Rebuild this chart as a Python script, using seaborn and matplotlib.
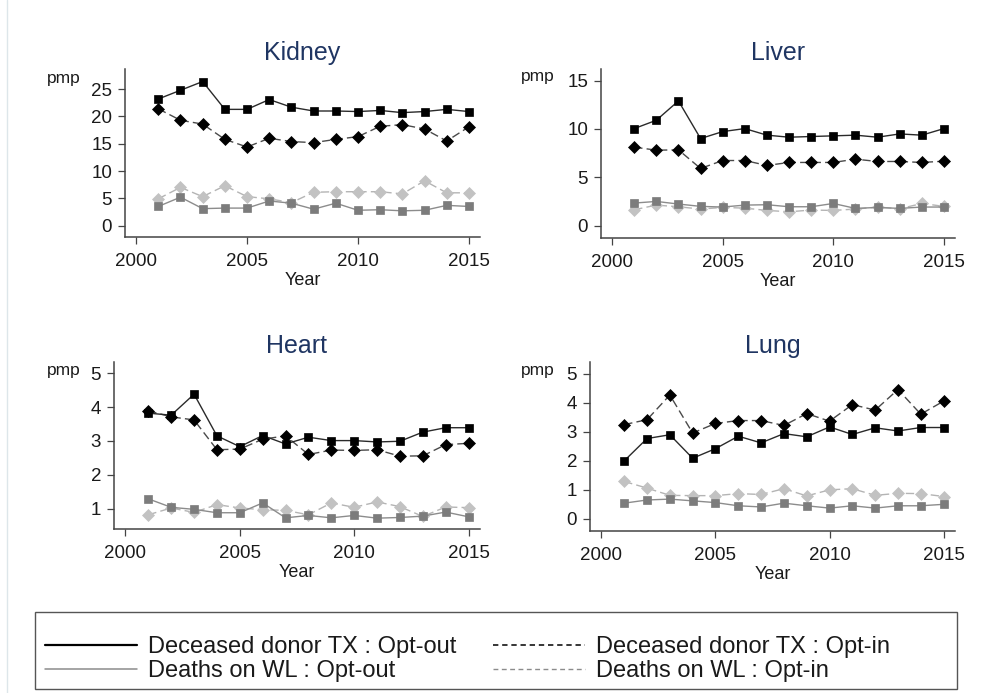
import matplotlib
matplotlib.use("Agg")
import matplotlib.pyplot as plt
from matplotlib.lines import Line2D
from matplotlib.patches import Rectangle
import seaborn as sns

# ---- data (per million population) ----
years = list(range(2001, 2016))

kidney_tx_optout = [23.2, 24.8, 26.4, 21.3, 21.3, 23.1, 21.7, 21.0, 21.0, 20.9, 21.1, 20.7, 20.9, 21.3, 20.9]
kidney_tx_optin = [21.4, 19.3, 18.6, 15.8, 14.4, 16.0, 15.4, 15.2, 15.8, 16.3, 18.2, 18.5, 17.7, 15.5, 18.1]
kidney_wl_optout = [3.5, 5.2, 3.1, 3.2, 3.2, 4.5, 4.1, 3.0, 4.1, 2.8, 2.9, 2.7, 2.8, 3.7, 3.5]
kidney_wl_optin = [4.9, 7.0, 5.3, 7.3, 5.3, 4.9, 4.2, 6.1, 6.2, 6.2, 6.2, 5.8, 8.2, 6.0, 6.0]

liver_tx_optout = [10.04, 10.9, 12.9, 9.01, 9.73, 10.04, 9.36, 9.15, 9.22, 9.29, 9.36, 9.15, 9.49, 9.36, 10.04]
liver_tx_optin = [8.12, 7.81, 7.84, 5.92, 6.74, 6.74, 6.23, 6.54, 6.54, 6.54, 6.88, 6.64, 6.64, 6.54, 6.67]
liver_wl_optout = [2.34, 2.51, 2.24, 2.0, 1.93, 2.13, 2.17, 1.96, 1.96, 2.3, 1.79, 1.89, 1.79, 1.93, 1.93]
liver_wl_optin = [1.65, 2.13, 1.96, 1.72, 1.89, 1.82, 1.58, 1.44, 1.62, 1.58, 1.72, 1.93, 1.75, 2.3, 2.0]

heart_tx_optout = [3.82, 3.76, 4.38, 3.15, 2.83, 3.16, 2.91, 3.11, 3.01, 3.01, 2.97, 2.99, 3.26, 3.39, 3.39]
heart_tx_optin = [3.89, 3.71, 3.62, 2.74, 2.76, 3.05, 3.15, 2.60, 2.73, 2.72, 2.74, 2.55, 2.56, 2.89, 2.93]
heart_wl_optout = [1.29, 1.04, 0.98, 0.88, 0.88, 1.17, 0.73, 0.80, 0.73, 0.80, 0.72, 0.74, 0.78, 0.90, 0.76]
heart_wl_optin = [0.82, 1.02, 0.89, 1.12, 1.02, 0.97, 0.95, 0.82, 1.17, 1.04, 1.20, 1.06, 0.77, 1.05, 1.03]

lung_tx_optout = [1.99, 2.76, 2.89, 2.08, 2.41, 2.84, 2.61, 2.93, 2.82, 3.16, 2.90, 3.13, 3.02, 3.14, 3.14]
lung_tx_optin = [3.24, 3.41, 4.26, 2.95, 3.28, 3.38, 3.38, 3.21, 3.62, 3.36, 3.93, 3.74, 4.45, 3.60, 4.05]
lung_wl_optout = [0.53, 0.64, 0.67, 0.61, 0.55, 0.44, 0.40, 0.53, 0.44, 0.36, 0.44, 0.36, 0.44, 0.44, 0.49]
lung_wl_optin = [1.28, 1.05, 0.80, 0.79, 0.79, 0.86, 0.83, 1.03, 0.78, 0.99, 1.03, 0.80, 0.87, 0.86, 0.76]

organs = ["Kidney", "Liver", "Heart", "Lung"]
series_labels = ["Deceased donor TX : Opt-out", "Deceased donor TX : Opt-in",
                 "Deaths on WL : Opt-out", "Deaths on WL : Opt-in"]
x_ticks = [2000, 2005, 2010, 2015]
y_ticks = {
    "Kidney": [0, 5, 10, 15, 20, 25],
    "Liver": [0, 5, 10, 15],
    "Heart": [1, 2, 3, 4, 5],
    "Lung": [0, 1, 2, 3, 4, 5],
}
organ_data = {
    "Kidney": (kidney_tx_optout, kidney_tx_optin, kidney_wl_optout, kidney_wl_optin),
    "Liver": (liver_tx_optout, liver_tx_optin, liver_wl_optout, liver_wl_optin),
    "Heart": (heart_tx_optout, heart_tx_optin, heart_wl_optout, heart_wl_optin),
    "Lung": (lung_tx_optout, lung_tx_optin, lung_wl_optout, lung_wl_optin),
}

# ---- styling ----
sns.set_style("ticks")
plt.rcParams["font.family"] = ["Liberation Sans", "DejaVu Sans"]

W, H = 992, 693
fig = plt.figure(figsize=(W / 100, H / 100), dpi=100)


def px_box(left, top, right, bottom):
    return [left / W, 1 - bottom / H, (right - left) / W, (bottom - top) / H]


panel_boxes = {
    "Kidney": px_box(125, 69, 480, 237),
    "Liver": px_box(601, 69, 955, 238),
    "Heart": px_box(114, 362, 480, 529),
    "Lung": px_box(590, 362, 955, 531),
}
panel_ylim = {
    "Kidney": (-2.1, 28.7),
    "Liver": (-1.27, 16.2),
    "Heart": (0.4, 5.33),
    "Lung": (-0.43, 5.4),
}
pmp_pos = {
    "Kidney": (81, 79),
    "Liver": (555, 77),
    "Heart": (81, 370),
    "Lung": (555, 370),
}

dash = (0, (6, 3))
# index into (tx_optout, tx_optin, wl_optout, wl_optin); opt-in drawn first
styles = [
    (1, dict(color="#4a4a4a", linestyle=dash, linewidth=1.0, marker="D", markersize=6.0,
             markerfacecolor="#000000", markeredgecolor="#000000")),
    (0, dict(color="#2a2a2a", linestyle="-", linewidth=1.0, marker="s", markersize=6.3,
             markerfacecolor="#000000", markeredgecolor="#000000")),
    (3, dict(color="#b4b4b4", linestyle=dash, linewidth=1.0, marker="D", markersize=6.0,
             markerfacecolor="#c2c2c2", markeredgecolor="#c2c2c2")),
    (2, dict(color="#8c8c8c", linestyle="-", linewidth=1.0, marker="s", markersize=6.3,
             markerfacecolor="#7c7c7c", markeredgecolor="#7c7c7c")),
]

title_color = "#1f3562"
axis_color = "#444444"
text_color = "#1a1a1a"

for organ in organs:
    ax = fig.add_axes(panel_boxes[organ])
    values = organ_data[organ]
    for idx, kw in styles:
        sns.lineplot(x=years, y=values[idx], ax=ax, markeredgewidth=0.5, **kw)
    ax.set_xlim(1999.5, 2015.5)
    ax.set_ylim(*panel_ylim[organ])
    ax.set_xticks(x_ticks)
    ax.set_yticks(y_ticks[organ])
    ax.set_xlabel("Year", fontsize=13, color=text_color, labelpad=1)
    ax.set_ylabel("")
    ax.set_title(organ, fontsize=18, color=title_color, pad=6.5)
    sns.despine(ax=ax)
    for sp in ("left", "bottom"):
        ax.spines[sp].set_color(axis_color)
        ax.spines[sp].set_linewidth(1.1)
    ax.tick_params(direction="out", length=5.3, width=0.9, color=axis_color,
                   labelsize=13.5, labelcolor=text_color)
    ax.tick_params(axis="x", pad=6.5)
    ax.tick_params(axis="y", pad=4)
    px, py = pmp_pos[organ]
    fig.text(px / W, 1 - py / H, "pmp", ha="right", va="center",
             fontsize=12.5, color=text_color)

# ---- legend ----
fig.patches.append(Rectangle((35 / W, 1 - 689 / H), 922 / W, 77 / H,
                             transform=fig.transFigure, fill=False,
                             edgecolor="#555555", linewidth=1.0))
handles = [
    Line2D([], [], color="#000000", linewidth=1.6, linestyle="-"),
    Line2D([], [], color="#8c8c8c", linewidth=1.1, linestyle="-"),
    Line2D([], [], color="#000000", linewidth=1.1, linestyle=(0, (3.5, 2.5))),
    Line2D([], [], color="#8c8c8c", linewidth=1.0, linestyle=(0, (3.5, 2.5))),
]
labels = [series_labels[0], series_labels[2], series_labels[1], series_labels[3]]
fig.legend(handles, labels, ncol=2, loc="upper left",
           bbox_to_anchor=(45 / W, 1 - 636 / H), frameon=False,
           fontsize=17, handlelength=3.9, handletextpad=0.47,
           columnspacing=1.55, labelspacing=0.1, borderpad=0, borderaxespad=0,
           labelcolor=text_color)

# faint outer edge line
fig.add_artist(Line2D([7 / W, 7 / W], [0, 1], transform=fig.transFigure,
                      color="#dde6ea", linewidth=1.0))

fig.savefig("out.png", dpi=100)
